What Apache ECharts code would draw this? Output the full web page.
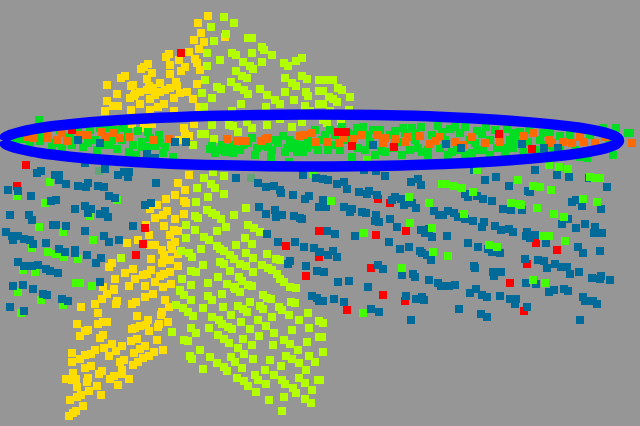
<!DOCTYPE html>
<html>
<head>
<meta charset="utf-8">
<style>html,body{margin:0;padding:0;background:#969696}#chart{width:640px;height:426px}</style>
<script src="https://cdn.jsdelivr.net/npm/echarts@6/dist/echarts.min.js"></script>
</head>
<body>
<div id="chart"></div>
<script>
// values, [x, y]
const yellowPoints = [[208,16],[198,23],[201,33],[225,37],[194,40],[204,42],[199,49],[189,52],[169,54],[166,57],[179,60],[195,59],[197,63],[170,65],[148,64],[144,67],[141,69],[185,67],[181,71],[200,70],[170,74],[152,73],[125,76],[121,78],[147,79],[107,85],[133,85],[131,86],[160,83],[176,82],[149,86],[177,86],[197,84],[140,92],[135,94],[147,90],[153,88],[170,88],[165,90],[160,92],[187,92],[180,93],[117,94],[130,98],[134,96],[155,95],[150,99],[174,98],[193,99],[107,101],[140,104],[164,104],[158,107],[118,106],[113,106],[105,111],[131,110],[150,110],[174,111],[199,107],[144,128],[184,128],[194,124],[152,124],[189,136],[179,140],[185,134],[132,124],[115,126],[90,128],
[189,175],[178,183],[185,190],[175,195],[166,199],[184,201],[186,203],[157,205],[150,209],[167,211],[163,215],[184,214],[155,218],[175,219],[146,225],[164,226],[174,230],[178,231],[170,235],[149,235],[138,240],[127,243],[175,242],[171,245],[155,245],[150,245],[162,250],[172,249],[164,255],[178,254],[151,259],[166,260],[170,260],[162,263],[112,263],[109,267],[178,266],[133,269],[125,273],[151,270],[147,274],[143,275],[170,272],[164,274],[160,276],[115,279],[135,279],[171,284],[129,286],[145,286],[163,287],[114,289],[103,287],[155,282],
[81,307],[95,304],[102,299],[107,294],[114,290],[117,301],[116,304],[132,304],[136,302],[145,297],[153,294],[165,300],[169,307],[162,312],[161,315],[98,313],[137,316],[148,320],[168,322],[159,324],[158,327],[103,322],[107,322],[98,324],[77,324],[146,325],[140,326],[135,328],[132,329],[149,331],[88,330],[85,331],[80,336],[103,335],[100,338],[137,339],[131,341],[157,340],[112,344],[104,348],[145,346],[140,349],[122,346],[116,351],[95,350],[91,354],[85,355],[72,353],[109,356],[134,353],[80,359],[163,350],[154,352],[149,356],[143,358],[138,362],[133,365],[124,360],[120,362],[72,362],[91,366],[85,368],[122,370],[122,374],[102,371],[99,374],[73,373],[114,376],[110,379],[88,378],[66,379],[72,380],[76,379],[87,382],[129,379],[118,385],[97,386],[77,387],[89,391],[101,395],[81,395],[77,397],[70,400],[83,406],[76,411],[73,413],[69,416]];

const limePoints = [[224,17],[234,23],[211,27],[226,34],[214,41],[252,38],[248,38],[262,47],[264,50],[232,53],[236,55],[252,53],[272,55],[207,53],[220,60],[302,58],[296,61],[284,63],[288,66],[243,62],[262,62],[250,66],[253,69],[207,66],[236,71],[242,76],[247,78],[205,80],[231,82],[285,78],[302,76],[307,79],[292,83],[217,87],[221,89],[237,87],[244,90],[248,94],[260,89],[267,95],[275,100],[280,104],[285,92],[294,100],[296,86],[306,92],[308,96],[202,93],[212,98],[204,107],[241,104],[266,107],[305,106],[310,111],[319,104],[319,91],[319,80],[232,111],[204,116],[212,125],[229,125],[233,126],[238,132],[252,128],[247,122],[267,125],[280,119],[292,127],[302,122],[201,134],[205,134],[214,139],[193,145],
[325,80],[333,80],[338,88],[342,90],[323,91],[350,97],[329,97],[333,99],[337,102],[349,110],[330,111],[323,104],[341,121],[327,123],[323,120],
[197,188],[204,178],[213,172],[224,176],[211,184],[215,188],[224,194],[208,197],[196,202],[246,208],[207,210],[212,213],[216,215],[195,216],[198,218],[221,219],[234,215],[186,225],[226,227],[248,225],[254,228],[260,232],[195,230],[217,231],[204,237],[209,240],[186,238],[245,238],[236,245],[252,244],[217,246],[220,249],[224,251],[230,255],[234,259],[201,249],[181,251],[189,253],[192,257],[246,253],[267,254],[253,258],[276,259],[280,260],[121,258],[203,265],[220,262],[224,264],[240,264],[246,266],[262,265],[268,268],[191,271],[196,272],[218,277],[230,271],[253,272],[272,270],[277,274],[182,279],[239,277],[242,281],[280,279],[284,282],[208,283],[227,284],[191,285],[248,285],[252,286],[234,287],[290,287],[296,288],[180,290],
[180,291],[184,295],[191,300],[176,305],[183,308],[188,312],[193,316],[203,308],[208,296],[212,300],[222,294],[240,292],[235,289],[223,307],[238,306],[243,309],[247,312],[250,302],[260,306],[263,309],[263,295],[267,298],[271,299],[279,307],[282,310],[289,315],[291,302],[295,303],[308,313],[272,317],[212,317],[231,315],[219,320],[222,324],[228,327],[232,329],[258,320],[266,326],[241,322],[250,329],[299,320],[319,321],[172,332],[191,328],[196,333],[209,328],[218,335],[224,339],[229,343],[259,336],[274,333],[292,330],[309,328],[243,339],[184,340],[188,341],[284,340],[290,344],[298,350],[307,342],[319,337],[252,345],[273,345],[238,348],[244,354],[200,350],[190,356],[192,359],[210,357],[217,363],[224,367],[227,371],[231,357],[235,362],[242,368],[253,359],[270,360],[281,366],[286,356],[292,359],[299,363],[309,356],[315,362],[203,369],[265,370],[274,375],[306,370],[255,375],[258,380],[237,378],[244,381],[248,386],[266,384],[282,380],[285,384],[293,388],[296,393],[299,378],[305,383],[312,390],[318,380],[256,392],[284,397],[269,400],[305,399],[311,403],[282,411],[323,323],[322,337],[323,352],[320,380]];

const bandGreenPoints = [[39,120],[40,141],[52,147],[72,145],[83,147],[88,143],[103,145],[110,145],[117,149],[123,128],[129,152],[138,131],[142,142],[142,147],[148,147],[159,135],[163,153],[173,157],[210,149],[215,153],[218,150],[225,152],[233,153],[233,145],[243,145],[252,138],[257,148],[268,147],[283,136],[287,148],[297,152],[295,143],[307,148],[308,140],[315,130],[289,162],[271,157],[60,130],[75,128],[100,128],[115,130],[160,143],[150,138],[275,140],[290,140],[300,145],
[14,140],[22,139],[30,142],[40,136],[55,143],[62,148],[70,137],[78,130],[90,130],[95,140],[97,150],[108,128],[112,140],[122,140],[128,132],[133,145],[136,155],[148,132],[155,146],[165,147],[212,146],[222,145],[230,148],[240,150],[248,143],[255,155],[262,146],[272,150],[278,143],[285,152],[292,148],[303,152],[312,145],[318,150],
[322,140],[330,130],[342,127],[357,128],[363,127],[373,130],[380,130],[395,131],[403,128],[412,128],[421,127],[438,126],[450,129],[455,127],[465,127],[477,131],[486,127],[495,130],[507,129],[513,133],[529,130],[543,133],[550,133],[560,136],[603,128],[616,128],[628,133],
[328,150],[333,145],[352,157],[365,150],[381,151],[393,148],[402,155],[410,150],[418,148],[428,155],[428,150],[440,148],[452,152],[457,150],[472,153],[477,150],[483,150],[497,148],[505,148],[513,148],[523,152],[537,155],[543,153],[580,157],[587,158],[613,155],[630,133],[345,140],[370,142],[415,140],[445,140],[470,140],[490,140],[510,140],[520,143],[540,140],[570,135],[590,135],[610,140],[560,150],[575,150],
[325,135],[335,135],[340,150],[348,133],[355,135],[358,148],[368,135],[375,155],[385,152],[390,135],[398,142],[405,133],[415,133],[422,152],[432,135],[442,132],[448,155],[460,133],[465,155],[475,143],[482,134],[490,155],[500,135],[505,155],[515,140],[520,132],[528,142],[535,150],[545,145],[553,150],[565,155]];

const orangePoints = [[33,138],[27,137],[48,138],[47,136],[57,140],[62,133],[67,141],[80,135],[88,135],[102,132],[105,137],[113,133],[119,138],[129,137],[153,140],[169,139],[227,139],[237,141],[245,141],[261,141],[265,139],[268,138],[300,136],[304,135],[312,133],[316,142],
[327,142],[339,143],[344,138],[353,139],[362,135],[377,135],[385,138],[383,143],[395,139],[405,142],[408,137],[420,136],[430,144],[435,141],[440,137],[455,142],[463,145],[472,137],[485,143],[500,142],[524,136],[533,133],[549,140],[552,143],[563,142],[572,143],[580,137],[584,142],[595,143],[605,137],[632,143]];

const redPoints = [[181,53],[72,130],[26,165],[17,186],[145,228],[143,244],[136,255],[286,246],[319,231],[319,257],[306,276],[378,199],[390,203],[406,231],[376,235],[536,243],[557,250],[527,264],[371,268],[510,283],[383,295],[405,301],[347,310],[524,311],[338,132],[346,132],[499,134],[352,146],[394,147],[532,149]];

// bright green on the left sits under the teal, on the right over it
const brightBackPoints = [[50,182],[17,196],[45,203],[117,200],[90,216],[39,227],[63,232],[93,240],[32,248],[48,252],[56,254],[64,257],[78,259],[23,270],[35,272],[80,283],[76,283],[92,286],[18,292],[41,300],[63,305],[21,313],[313,174]];
const brightFrontPoints = [[331,201],[409,197],[429,203],[442,184],[446,184],[454,186],[462,188],[473,192],[464,214],[410,223],[432,228],[364,233],[402,268],[433,252],[448,256],[489,245],[497,247],[511,203],[519,204],[521,205],[537,208],[554,214],[564,217],[583,199],[597,202],[518,180],[533,186],[540,187],[551,190],[590,177],[595,178],[600,178],[559,167],[568,169],[549,165],[477,170],[543,236],[549,236],[565,241],[533,280],[545,283],[367,160],[363,313]];

const mutedPoints = [[99,171],[251,178]];

const tealPoints = [[78,140],[100,143],[147,154],[155,158],[175,142],[186,142],[41,171],[37,173],[55,175],[59,175],[59,180],[66,184],[78,186],[86,187],[88,183],[98,186],[104,187],[109,196],[115,198],[105,169],[85,163],[118,175],[124,172],[129,172],[128,177],[156,183],[8,190],[18,191],[31,196],[51,201],[56,200],[75,209],[85,206],[91,209],[88,213],[100,214],[105,211],[108,217],[10,215],[29,215],[32,220],[53,225],[56,225],[66,226],[85,231],[6,232],[12,236],[18,236],[13,240],[24,239],[30,240],[33,244],[46,243],[104,236],[109,242],[119,240],[133,226],[59,249],[65,252],[75,253],[75,250],[87,255],[101,258],[96,263],[18,262],[24,266],[32,266],[38,265],[46,269],[50,271],[58,273],[100,282],[13,286],[23,285],[33,289],[145,205],[151,203],[236,178],[258,183],[266,187],[274,186],[280,190],[281,193],[293,195],[305,199],[309,196],[259,207],[266,214],[275,210],[282,215],[276,217],[294,216],[300,218],[302,219],[267,234],[278,242],[295,242],[304,247],[314,248],[319,252],[290,261],[288,264],[306,266],[317,271],[303,175],[316,178],[319,207],
[323,179],[328,180],[337,184],[344,182],[347,189],[359,192],[367,194],[369,191],[377,195],[411,182],[418,179],[421,185],[385,176],[364,170],[376,171],[485,180],[496,177],[509,186],[535,170],[474,170],[557,175],[569,177],[589,178],[607,187],[528,191],[530,192],[465,194],[468,197],[477,196],[483,199],[492,201],[503,209],[511,210],[522,210],[392,200],[395,197],[401,199],[404,205],[412,203],[416,208],[323,200],[326,207],[344,207],[352,209],[350,212],[362,212],[366,213],[376,215],[375,221],[379,222],[390,219],[397,227],[434,211],[439,215],[443,215],[448,211],[454,213],[458,217],[465,219],[473,221],[484,222],[482,227],[495,226],[501,230],[509,229],[513,232],[527,232],[526,236],[530,238],[535,235],[546,243],[562,224],[568,219],[576,228],[585,224],[595,227],[594,233],[602,233],[572,202],[576,200],[582,206],[601,209],[327,231],[335,234],[355,236],[421,230],[425,233],[429,229],[432,237],[447,236],[389,242],[400,249],[409,247],[420,251],[422,253],[427,255],[431,260],[468,243],[478,247],[488,249],[492,252],[500,253],[525,259],[538,260],[544,261],[547,268],[555,264],[561,267],[567,267],[570,274],[579,272],[578,247],[583,253],[600,251],[320,252],[328,255],[333,251],[337,257],[378,265],[383,269],[413,274],[415,277],[402,275],[474,266],[475,268],[493,272],[501,272],[494,276],[324,272],[338,282],[349,281],[429,280],[438,283],[441,286],[449,286],[455,285],[526,283],[536,284],[592,278],[601,276],[600,279],[610,280],[368,287],[476,289],[554,290],[564,289],
[323,301],[334,299],[344,302],[371,309],[379,312],[406,296],[416,299],[422,297],[424,300],[411,320],[459,309],[470,293],[482,295],[487,297],[500,296],[510,299],[516,299],[515,304],[527,307],[481,314],[487,317],[549,292],[568,291],[583,297],[585,301],[593,301],[597,304],[580,320],
[43,294],[47,295],[62,299],[68,301],[10,307],[24,311],[312,296],[317,298],[319,301],
[446,144],[461,148],[373,145],[522,144],[544,148],[558,148]];

const ringPoints = [[3,140.5],[5,137.5],[10,135],[20,132],[40,128],[70,124.3],[110,120.8],[160,117.8],[220,115.7],[311,114.5],[400,115.6],[460,117.7],[510,120.7],[550,124.1],[580,127.8],[600,131.5],[610,134.3],[616,136.9],[619,140.5],[616,144.1],[610,146.7],[600,149.5],[580,153.2],[550,156.9],[510,160.3],[460,163.3],[400,165.4],[311,166.5],[220,165.3],[160,163.2],[110,160.2],[70,156.7],[40,153],[20,149],[10,146],[5,143.5],[3,140.5]];

function squares(points, color) {
  return {
    type: "scatter",
    data: points,
    symbol: "rect",
    symbolSize: 8,
    itemStyle: { color: color, opacity: 1 },
    silent: true
  };
}

const chart = echarts.init(document.getElementById("chart"));
chart.setOption({
  animation: false,
  backgroundColor: "#969696",
  grid: { left: 0, right: 0, top: 0, bottom: 0 },
  xAxis: { type: "value", min: 0, max: 640, show: false },
  yAxis: { type: "value", min: 0, max: 426, inverse: true, show: false },
  series: [
    squares(yellowPoints, "#ffdd00"),
    squares(limePoints, "#b3ff00"),
    squares(bandGreenPoints, "#00dd22"),
    squares(orangePoints, "#ff6a00"),
    squares(redPoints, "#ff0000"),
    squares(brightBackPoints, "#44ff00"),
    squares(mutedPoints, "#5fa578"),
    squares(tealPoints, "#006b99"),
    squares(brightFrontPoints, "#44ff00"),
    {
      type: "line",
      data: ringPoints,
      symbol: "none",
      smooth: 0.4,
      clip: false,
      lineStyle: { color: "#0000ff", width: 10.5, join: "round" },
      silent: true
    }
  ]
});
</script>
</body>
</html>
